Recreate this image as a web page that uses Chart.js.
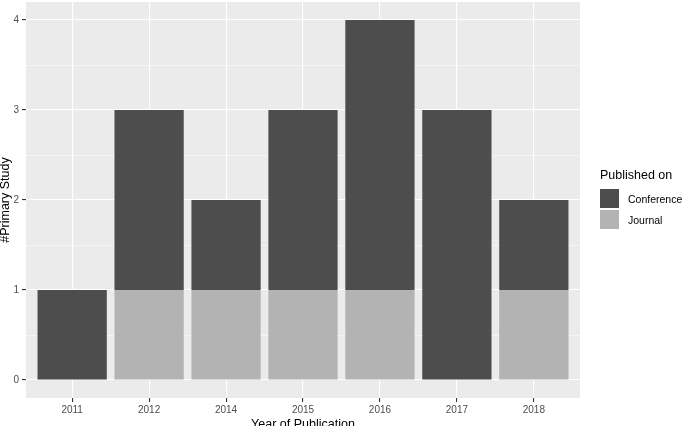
<!DOCTYPE html>
<html>
<head>
<meta charset="utf-8">
<script src="https://cdn.jsdelivr.net/npm/chart.js@4"></script>
<style>
  body { margin: 0; background: #fff; font-family: "Liberation Sans", Arial, sans-serif; }
  #wrap { position: relative; width: 687px; height: 426px; }
  #legend { position: absolute; left: 600px; top: 168px; color: #000; }
  #legend .title { font-size: 12.5px; margin-bottom: 6px; }
  #legend .row { display: flex; align-items: center; height: 21px; font-size: 10.5px; }
  #legend .key { width: 19px; height: 19px; margin-right: 9px; }
</style>
</head>
<body>
<div id="wrap">
  <canvas id="chart" width="687" height="426"></canvas>
  <div id="legend">
    <div class="title">Published on</div>
    <div class="row"><div class="key" style="background:#4d4d4d"></div>Conference</div>
    <div class="row"><div class="key" style="background:#b3b3b3"></div>Journal</div>
  </div>
</div>
<script>
const years = ['2011', '2012', '2014', '2015', '2016', '2017', '2018'];
const conference = [1, 2, 1, 2, 3, 3, 1];
const journal = [0, 1, 1, 1, 1, 0, 1];
const yTicks = [0, 1, 2, 3, 4];

const panelBg = {
  id: 'panelBg',
  beforeDraw(chart) {
    const { ctx, chartArea: a } = chart;
    ctx.save();
    ctx.fillStyle = '#ebebeb';
    ctx.fillRect(a.left, a.top, a.right - a.left, a.bottom - a.top);
    ctx.restore();
  }
};

const toPoints = arr => arr.map((v, i) => ({ x: i, y: v }));

new Chart(document.getElementById('chart').getContext('2d'), {
  type: 'bar',
  data: {
    datasets: [
      { label: 'Journal', data: toPoints(journal), backgroundColor: '#b3b3b3' },
      { label: 'Conference', data: toPoints(conference), backgroundColor: '#4d4d4d' }
    ]
  },
  options: {
    responsive: false,
    animation: false,
    layout: { padding: { top: 2, right: 107, left: 0, bottom: 0 } },
    datasets: { bar: { barPercentage: 0.9, categoryPercentage: 1, borderWidth: 0 } },
    plugins: { legend: { display: false }, tooltip: { enabled: false } },
    scales: {
      x: {
        type: 'linear',
        stacked: true,
        offset: false,
        min: -0.6,
        max: 6.6,
        afterFit(s) { s.height = 28; s.paddingLeft = 0; s.paddingRight = 0; },
        border: { display: false },
        grid: { offset: false, color: '#fff', lineWidth: 1.1, tickLength: 4, tickColor: '#333' },
        ticks: {
          stepSize: 1,
          includeBounds: false,
          padding: 2,
          color: '#4d4d4d',
          font: { family: 'Liberation Sans', size: 10 },
          callback: v => years[v] ?? ''
        },
        title: {
          display: true,
          text: 'Year of Publication',
          color: '#000',
          font: { family: 'Liberation Sans', size: 12.5 },
          padding: { top: 0, bottom: -6 }
        }
      },
      y: {
        stacked: true,
        min: -0.2,
        max: 4.2,
        afterFit(s) { s.width = 26; s.paddingTop = 0; s.paddingBottom = 0; },
        border: { display: false },
        grid: {
          color: '#fff',
          lineWidth: c => (Number.isInteger(c.tick.value) ? 1.1 : 0.5),
          tickLength: 4,
          tickColor: c => (Number.isInteger(c.tick.value) ? '#333' : 'rgba(0,0,0,0)')
        },
        ticks: {
          stepSize: 0.5,
          includeBounds: false,
          padding: 3,
          color: '#4d4d4d',
          font: { family: 'Liberation Sans', size: 10 },
          callback: v => (yTicks.includes(v) ? String(v) : '')
        },
        title: {
          display: true,
          text: '#Primary Study',
          color: '#000',
          font: { family: 'Liberation Sans', size: 12.5 },
          padding: { top: -2, bottom: 0 }
        }
      }
    }
  },
  plugins: [panelBg]
});
</script>
</body>
</html>
